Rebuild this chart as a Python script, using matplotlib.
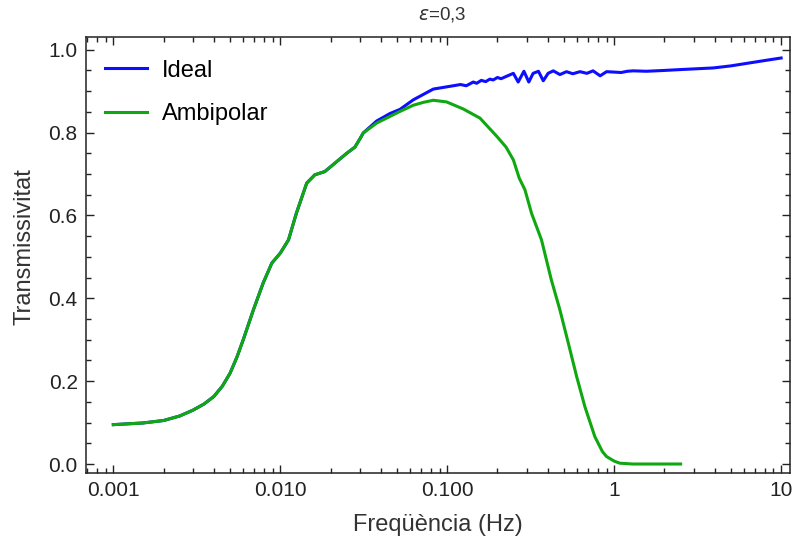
import matplotlib
matplotlib.use("Agg")
import matplotlib.pyplot as plt
import numpy as np
from matplotlib.ticker import LogLocator, NullFormatter, MultipleLocator

plt.rcParams['font.family'] = ['Liberation Sans', 'DejaVu Sans']

# part where both curves coincide
common_f = [0.001, 0.0015, 0.002, 0.0025, 0.003, 0.0035, 0.004, 0.0045, 0.005, 0.0055,
            0.006, 0.0069, 0.0079, 0.0089, 0.010, 0.0112, 0.0125, 0.0144, 0.0161,
            0.0185, 0.0218, 0.025, 0.028, 0.0300, 0.0314]
common_t = [0.095, 0.099, 0.105, 0.116, 0.130, 0.145, 0.163, 0.188, 0.219, 0.258,
            0.300, 0.372, 0.437, 0.485, 0.509, 0.541, 0.606, 0.678, 0.698,
            0.706, 0.730, 0.750, 0.765, 0.785, 0.799]

# Ideal continues
ideal_f = [0.0378, 0.0454, 0.0521, 0.0626, 0.0825, 0.1087, 0.12, 0.13, 0.1432, 0.15,
           0.16, 0.17, 0.18, 0.1884, 0.20, 0.21, 0.227, 0.249, 0.266, 0.288, 0.308,
           0.327, 0.352, 0.376, 0.402, 0.432, 0.473, 0.518, 0.565, 0.624, 0.686,
           0.747, 0.824, 0.90, 1.0, 1.1, 1.2, 1.3, 1.56, 2.0, 2.47, 3.92, 5.0,
           6.21, 8.0, 10.0]
ideal_t = [0.828, 0.846, 0.856, 0.879, 0.905, 0.913, 0.916, 0.913, 0.922, 0.919,
           0.926, 0.923, 0.929, 0.927, 0.933, 0.930, 0.936, 0.943, 0.922, 0.948, 0.922,
           0.943, 0.948, 0.925, 0.943, 0.949, 0.940, 0.947, 0.942, 0.947, 0.943,
           0.949, 0.937, 0.947, 0.946, 0.945, 0.948, 0.949, 0.948, 0.950, 0.952, 0.956, 0.961,
           0.967, 0.974, 0.980]

# Ambipolar continues
ambi_f = [0.0378, 0.0454, 0.0521, 0.0626, 0.0720, 0.0825, 0.0991, 0.1247, 0.157, 0.198,
          0.225, 0.249, 0.270, 0.292, 0.320, 0.367, 0.420, 0.473, 0.531, 0.596,
          0.668, 0.766, 0.850, 0.900, 1.00, 1.08, 1.29, 2.50]
ambi_t = [0.823, 0.839, 0.851, 0.866, 0.873, 0.878, 0.874, 0.857, 0.835, 0.791,
          0.765, 0.734, 0.690, 0.662, 0.605, 0.541, 0.445, 0.372, 0.292, 0.211,
          0.138, 0.066, 0.030, 0.018, 0.007, 0.002, 0.0, 0.0]

xticks = [0.001, 0.01, 0.1, 1, 10]
xtick_labels = ['0.001', '0.010', '0.100', '1', '10']
yticks = [0.0, 0.2, 0.4, 0.6, 0.8, 1.0]
ytick_labels = ['0.0', '0.2', '0.4', '0.6', '0.8', '1.0']

fig = plt.figure(figsize=(7.92, 5.48), dpi=100)
ax = fig.add_axes([86/792, 1-473/548, 704/792, 436/548])

ax.plot(common_f + ideal_f, common_t + ideal_t, color='#0d0dff', lw=2.2, label='Ideal')
ax.plot(common_f + ambi_f, common_t + ambi_t, color='#10a810', lw=2.2, label='Ambipolar')

ax.set_xscale('log')
ax.set_xlim(6.86e-4, 11.3)
ax.set_ylim(-0.0217, 1.0307)

ax.set_xticks(xticks)
ax.set_xticklabels(xtick_labels)
ax.xaxis.set_minor_locator(LogLocator(base=10, subs=np.arange(2, 10)))
ax.xaxis.set_minor_formatter(NullFormatter())
ax.set_yticks(yticks)
ax.set_yticklabels(ytick_labels)
ax.yaxis.set_minor_locator(MultipleLocator(0.05))

ax.tick_params(which='both', direction='in', top=True, right=True, colors='#222222',
               labelsize=15, width=1)
ax.tick_params(which='major', length=5.5, pad=6)
ax.tick_params(which='minor', length=3.5)
for s in ax.spines.values():
    s.set_color('#222222')
    s.set_linewidth(1.1)

ax.set_xlabel('Freqüència (Hz)', fontsize=17, color='#333333', va='center')
ax.xaxis.set_label_coords(0.5, -0.12)
ax.set_ylabel('Transmissivitat', fontsize=17, color='#333333')
ax.yaxis.set_label_coords(-0.072, 0.52)

fig.text(442/792, 1-15/548, r'$\epsilon$=0,3', ha='center', va='center', fontsize=13.5,
         color='#333333')

ax.legend(loc='upper left', bbox_to_anchor=(0.027, 0.948), frameon=False,
          fontsize=17, handlelength=1.78, handletextpad=0.64, labelspacing=0.9,
          borderpad=0, borderaxespad=0)

fig.savefig('out.png', dpi=100)
